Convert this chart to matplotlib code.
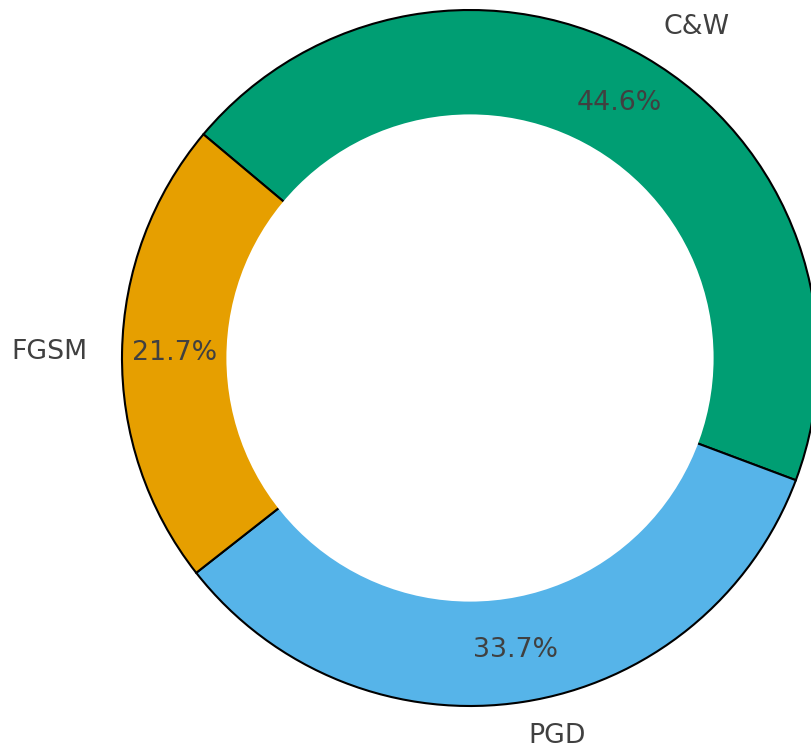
import matplotlib
matplotlib.use("Agg")
import matplotlib.pyplot as plt

labels = ["C&W", "PGD", "FGSM"]
shares = [44.6, 33.7, 21.7]
colors = ["#009E73", "#56B4E9", "#E69F00"]

fig = plt.figure(figsize=(8.12, 7.46), dpi=100)
ax = fig.add_axes([0, 0, 1, 1])

wedges, texts, autotexts = ax.pie(
    shares, labels=labels, colors=colors, autopct="%1.1f%%",
    startangle=140, counterclock=False, pctdistance=0.85, labeldistance=1.1,
    wedgeprops=dict(edgecolor="black", linewidth=1.5),
    textprops=dict(fontsize=19.3, color="#404040"),
)

# white centre disc, no outline, makes the donut hole
centre = plt.Circle((0, 0), 0.70, facecolor="white", edgecolor="none")
ax.add_artist(centre)

# place the donut the same way as the reference (348 px per unit)
scale = 348.0
cx, cy = 470.0, 746.0 - 358.0
ax.set_xlim(-cx / scale, (812 - cx) / scale)
ax.set_ylim(-cy / scale, (746 - cy) / scale)
ax.set_aspect("auto")
ax.axis("off")

fig.savefig("out.png", dpi=100)
